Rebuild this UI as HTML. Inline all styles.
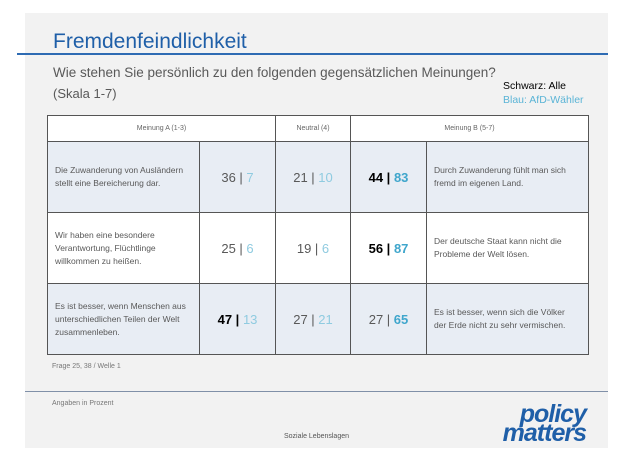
<!DOCTYPE html>
<html><head><meta charset="utf-8"><style>
body{margin:0;width:620px;height:455px;background:#fff;position:relative;overflow:hidden;font-family:"Liberation Sans",sans-serif}
.a{position:absolute;white-space:nowrap}
#panel{position:absolute;left:25px;top:13px;width:583px;height:435px;background:#f2f2f2}
table{position:absolute;left:47px;top:115px;border-collapse:collapse;table-layout:fixed}
td{border:1.3px solid #555;padding:0;color:#595959}
.hd td{height:25px;background:#fff;font-size:7px;text-align:center;color:#666}
.r td{height:70px;background:#e8edf4}
.r.w td{background:#fff}
.txt{font-size:8.5px;line-height:13px;padding-left:7px !important}
.num{text-align:center;font-size:13px}
.b{color:#8fcbe0}
.bb{color:#3fa6cc;font-weight:bold}
.k{color:#000;font-weight:bold}
</style></head><body>
<div id="panel"></div>
<div class="a" style="left:53px;top:30px;font-size:21px;color:#1f5fa8">Fremdenfeindlichkeit</div>
<div class="a" style="left:17px;top:53px;width:591px;height:1.5px;background:#2e6bb3"></div>
<div class="a" style="left:53px;top:65px;font-size:13.5px;color:#595959">Wie stehen Sie persönlich zu den folgenden gegensätzlichen Meinungen?</div>
<div class="a" style="left:53px;top:86px;font-size:13px;color:#595959">(Skala 1-7)</div>
<div class="a" style="left:503px;top:80px;font-size:10.5px;color:#000">Schwarz: Alle</div>
<div class="a" style="left:503px;top:94px;font-size:10.5px;color:#5ab4d6">Blau: AfD-Wähler</div>
<table>
<colgroup><col style="width:152px"><col style="width:76px"><col style="width:75px"><col style="width:76px"><col style="width:162px"></colgroup>
<tr class="hd"><td colspan="2">Meinung A (1-3)</td><td>Neutral (4)</td><td colspan="2">Meinung B (5-7)</td></tr>
<tr class="r"><td class="txt">Die Zuwanderung von Ausländern<br>stellt eine Bereicherung dar.</td><td class="num">36 | <span class="b">7</span></td><td class="num">21 | <span class="b">10</span></td><td class="num"><span class="k">44 |</span> <span class="bb">83</span></td><td class="txt">Durch Zuwanderung fühlt man sich<br>fremd im eigenen Land.</td></tr>
<tr class="r w"><td class="txt">Wir haben eine besondere<br>Verantwortung, Flüchtlinge<br>willkommen zu heißen.</td><td class="num">25 | <span class="b">6</span></td><td class="num">19 | <span class="b">6</span></td><td class="num"><span class="k">56 |</span> <span class="bb">87</span></td><td class="txt">Der deutsche Staat kann nicht die<br>Probleme der Welt lösen.</td></tr>
<tr class="r"><td class="txt">Es ist besser, wenn Menschen aus<br>unterschiedlichen Teilen der Welt<br>zusammenleben.</td><td class="num"><span class="k">47 |</span> <span class="b">13</span></td><td class="num">27 | <span class="b">21</span></td><td class="num">27 | <span class="bb">65</span></td><td class="txt">Es ist besser, wenn sich die Völker<br>der Erde nicht zu sehr vermischen.</td></tr>
</table>
<div class="a" style="left:52px;top:363px;font-size:7px;color:#777">Frage 25, 38 / Welle 1</div>
<div class="a" style="left:25px;top:391px;width:583px;height:1px;background:#8090a8"></div>
<div class="a" style="left:52px;top:400px;font-size:7px;color:#777">Angaben in Prozent</div>
<div class="a" style="left:284px;top:433px;font-size:7px;color:#555">Soziale Lebenslagen</div>
<div class="a" style="right:34px;top:405px;font-size:25px;line-height:19px;font-weight:bold;font-style:italic;color:#1f5fa8;text-align:right;letter-spacing:-1px">policy<br>matters</div>
</body></html>
